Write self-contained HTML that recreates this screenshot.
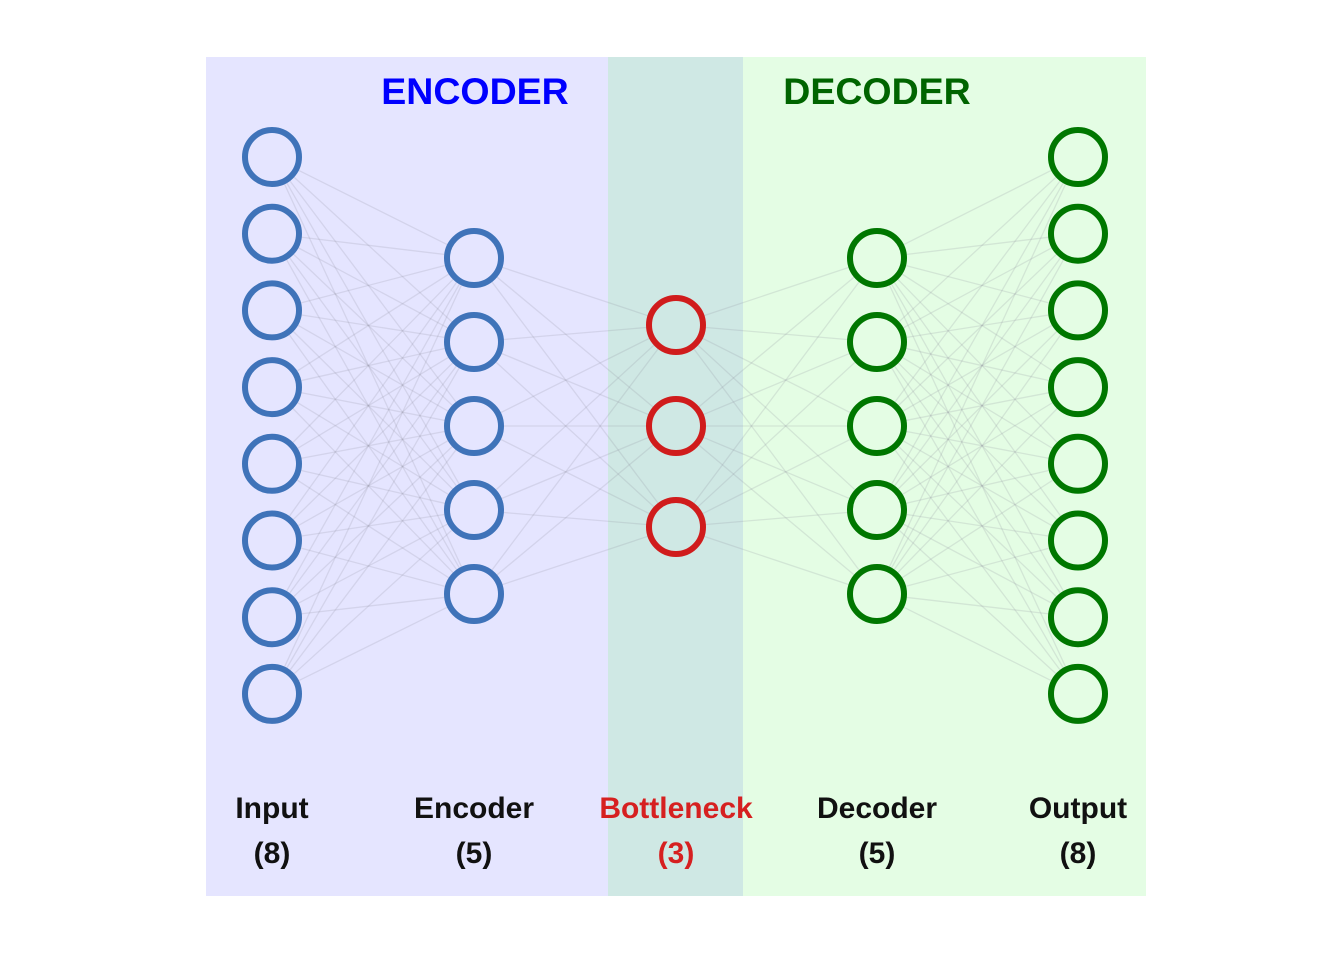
<!DOCTYPE html>
<html><head><meta charset="utf-8"><style>
html,body{margin:0;padding:0;background:#fff;width:1344px;height:960px;overflow:hidden}
svg{display:block}
text{font-family:"Liberation Sans",sans-serif;font-weight:bold}
</style></head><body>
<svg id="s" width="1344" height="960" xmlns="http://www.w3.org/2000/svg">
<rect x="206" y="57" width="402" height="839" fill="#e5e5ff"/>
<rect x="608" y="57" width="135" height="839" fill="#cfe8e4"/>
<rect x="743" y="57" width="403" height="839" fill="#e4fde4"/>
<g id="edges" stroke="#8a8a9a" stroke-width="1.3" stroke-opacity="0.2"></g>
<g id="nodes" stroke-width="6"></g>
<text x="475" y="104" font-size="37.5" fill="#0000ff" text-anchor="middle">ENCODER</text>
<text x="877" y="104" font-size="37.5" fill="#006400" text-anchor="middle">DECODER</text>
<g font-size="30" text-anchor="middle" fill="#111">
<text x="272" y="818">Input</text><text x="272" y="863">(8)</text>
<text x="474" y="818">Encoder</text><text x="474" y="863">(5)</text>
<text x="676" y="818" fill="#d62020">Bottleneck</text><text x="676" y="863" fill="#d62020">(3)</text>
<text x="877" y="818">Decoder</text><text x="877" y="863">(5)</text>
<text x="1078" y="818">Output</text><text x="1078" y="863">(8)</text>
</g>
</svg>
<script>
var NS="http://www.w3.org/2000/svg";
var i8=[],e5=[],b3=[325,426,527];
for(var i=0;i<8;i++)i8.push(157+i*76.7);
for(var i=0;i<5;i++)e5.push(258+i*84);
var cols=[[272,i8,"#3f73b9"],[474,e5,"#3f73b9"],[676,b3,"#d01c1c"],[877,e5,"#007700"],[1078,i8,"#007700"]];
var E=document.getElementById("edges"),N=document.getElementById("nodes");
var R=30;
for(var c=0;c<4;c++){var a=cols[c],b=cols[c+1];
for(var p=0;p<a[1].length;p++)for(var q=0;q<b[1].length;q++){
var x1=a[0],y1=a[1][p],x2=b[0],y2=b[1][q],dx=x2-x1,dy=y2-y1,d=Math.sqrt(dx*dx+dy*dy),ux=dx/d,uy=dy/d;
var l=document.createElementNS(NS,"line");l.setAttribute("x1",x1+ux*R);l.setAttribute("y1",y1+uy*R);l.setAttribute("x2",x2-ux*R);l.setAttribute("y2",y2-uy*R);E.appendChild(l);}}
cols.forEach(function(a){a[1].forEach(function(y){var ci=document.createElementNS(NS,"circle");ci.setAttribute("cx",a[0]);ci.setAttribute("cy",y);ci.setAttribute("r",27);ci.setAttribute("fill","none");ci.setAttribute("stroke",a[2]);N.appendChild(ci);});});
</script>
</body></html>
